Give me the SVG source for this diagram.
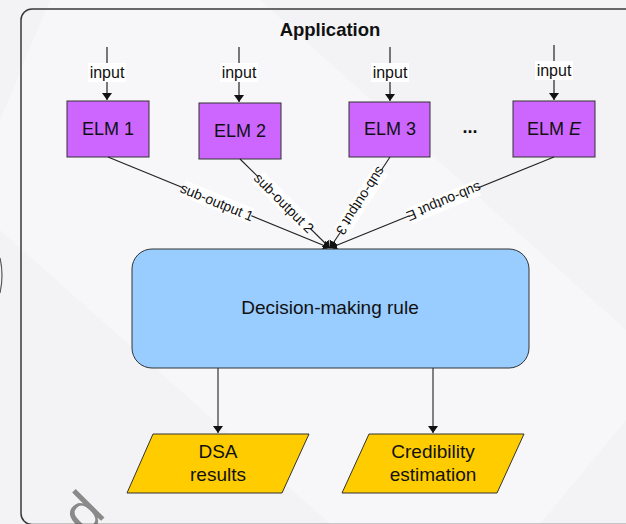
<svg xmlns="http://www.w3.org/2000/svg" width="626" height="524" viewBox="0 0 626 524">
  <defs>
    <marker id="arrow" markerUnits="userSpaceOnUse" markerWidth="8" markerHeight="11" refX="7" refY="5" orient="auto">
      <path d="M0,0 L7,5 L0,10 z" fill="#111"/>
    </marker>
    <style>
      text { font-family: "Liberation Sans", Arial, sans-serif; fill: #111; }
      .elm rect { fill: #cc66ff; stroke: #333; stroke-width: 1; }
      .elm text { font-size: 18px; text-anchor: middle; }
      .in line { stroke: #222; stroke-width: 1.2; }
      .in rect { fill: #ffffff; }
      .in text { font-size: 16px; text-anchor: middle; }
      .conn line { stroke: #222; stroke-width: 1.1; }
      .lbl rect { fill: #ffffff; }
      .lbl text { font-size: 14px; text-anchor: middle; }
      .out polygon { fill: #ffcc00; stroke: #333; stroke-width: 1; }
      .out text { font-size: 19px; text-anchor: middle; }
    </style>
  </defs>

  <!-- page background -->
  <rect x="0" y="0" width="626" height="524" fill="#f3f3f5"/>
  <polygon points="50,0 260,0 626,330 626,420 540,524 330,524 0,230 0,120" fill="#f7f7f9"/>
  <path d="M0,258 Q4,275 0,293" fill="none" stroke="#555" stroke-width="1.2"/>
  <text x="0" y="0" transform="translate(85,537) rotate(-45)" style="font-size:56px;fill:#8a8a8a">d</text>

  <!-- application frame -->
  <rect x="21" y="9" width="640" height="515.5" rx="11" fill="none" stroke="#3a3a3a" stroke-width="1.5"/>
  <text x="330" y="36" style="font-size:18.5px;font-weight:bold" text-anchor="middle">Application</text>

  <!-- input arrows -->
  <g class="in">
    <line x1="107" y1="47" x2="107" y2="100" marker-end="url(#arrow)"/>
    <rect x="88" y="63" width="38" height="19"/>
    <text x="107" y="78">input</text>
    <line x1="239" y1="47" x2="239" y2="102" marker-end="url(#arrow)"/>
    <rect x="220" y="63" width="38" height="19"/>
    <text x="239" y="78">input</text>
    <line x1="390" y1="47" x2="390" y2="101" marker-end="url(#arrow)"/>
    <rect x="371" y="63" width="38" height="19"/>
    <text x="390" y="78">input</text>
    <line x1="554" y1="45" x2="554" y2="100" marker-end="url(#arrow)"/>
    <rect x="535" y="61" width="38" height="19"/>
    <text x="554" y="76">input</text>
  </g>

  <!-- ensemble members -->
  <g id="elm1" class="elm">
    <rect x="67" y="101" width="82" height="56"/>
    <text x="108" y="135">ELM 1</text>
  </g>
  <g id="elm2" class="elm">
    <rect x="199" y="103" width="82" height="56"/>
    <text x="240" y="137">ELM 2</text>
  </g>
  <g id="elm3" class="elm">
    <rect x="349" y="102" width="81" height="55"/>
    <text x="390" y="135">ELM 3</text>
  </g>
  <text x="470" y="133" text-anchor="middle" style="font-size:18px;font-weight:bold">...</text>
  <g id="elmE" class="elm">
    <rect x="513" y="101" width="82" height="56"/>
    <text x="554" y="135">ELM <tspan font-style="italic">E</tspan></text>
  </g>

  <!-- connectors -->
  <g id="connectors" class="conn">
    <line x1="108" y1="157" x2="330" y2="248" marker-end="url(#arrow)"/>
    <line x1="240" y1="159" x2="330" y2="248" marker-end="url(#arrow)"/>
    <line x1="390" y1="157" x2="330" y2="248" marker-end="url(#arrow)"/>
    <line x1="554" y1="157" x2="330" y2="248" marker-end="url(#arrow)"/>
    <line x1="218" y1="368" x2="218" y2="433" marker-end="url(#arrow)" stroke="#444"/>
    <line x1="433" y1="368" x2="433" y2="433" marker-end="url(#arrow)" stroke="#444"/>
  </g>

  <!-- connector labels -->
  <g class="lbl">
    <g transform="translate(217,202) rotate(22.5)">
      <rect x="-37" y="-8" width="74" height="16"/>
      <text x="0" y="5">sub-output 1</text>
    </g>
    <g transform="translate(284,203) rotate(45)">
      <rect x="-37" y="-8" width="74" height="16"/>
      <text x="0" y="5">sub-output 2</text>
    </g>
    <g transform="translate(361,201) rotate(123.1)">
      <rect x="-37" y="-8" width="74" height="16"/>
      <text x="0" y="5">sub-output 3</text>
    </g>
    <g transform="translate(444,202) rotate(157.7)">
      <rect x="-37" y="-8" width="74" height="16"/>
      <text x="0" y="5">sub-output E</text>
    </g>
  </g>

  <!-- decision rule -->
  <g id="decision">
    <rect x="132" y="249" width="397" height="119" rx="20" fill="#99ccff" stroke="#333" stroke-width="1"/>
    <text x="330" y="314" text-anchor="middle" style="font-size:19px">Decision-making rule</text>
  </g>

  <!-- outputs -->
  <g id="dsa" class="out">
    <polygon points="153,434 309,434 282,493 127,493"/>
    <text x="218" y="458">DSA</text>
    <text x="218" y="481">results</text>
  </g>
  <g id="credibility" class="out">
    <polygon points="369,434 524,434 497,493 342,493"/>
    <text x="433" y="458">Credibility</text>
    <text x="433" y="481">estimation</text>
  </g>
</svg>
